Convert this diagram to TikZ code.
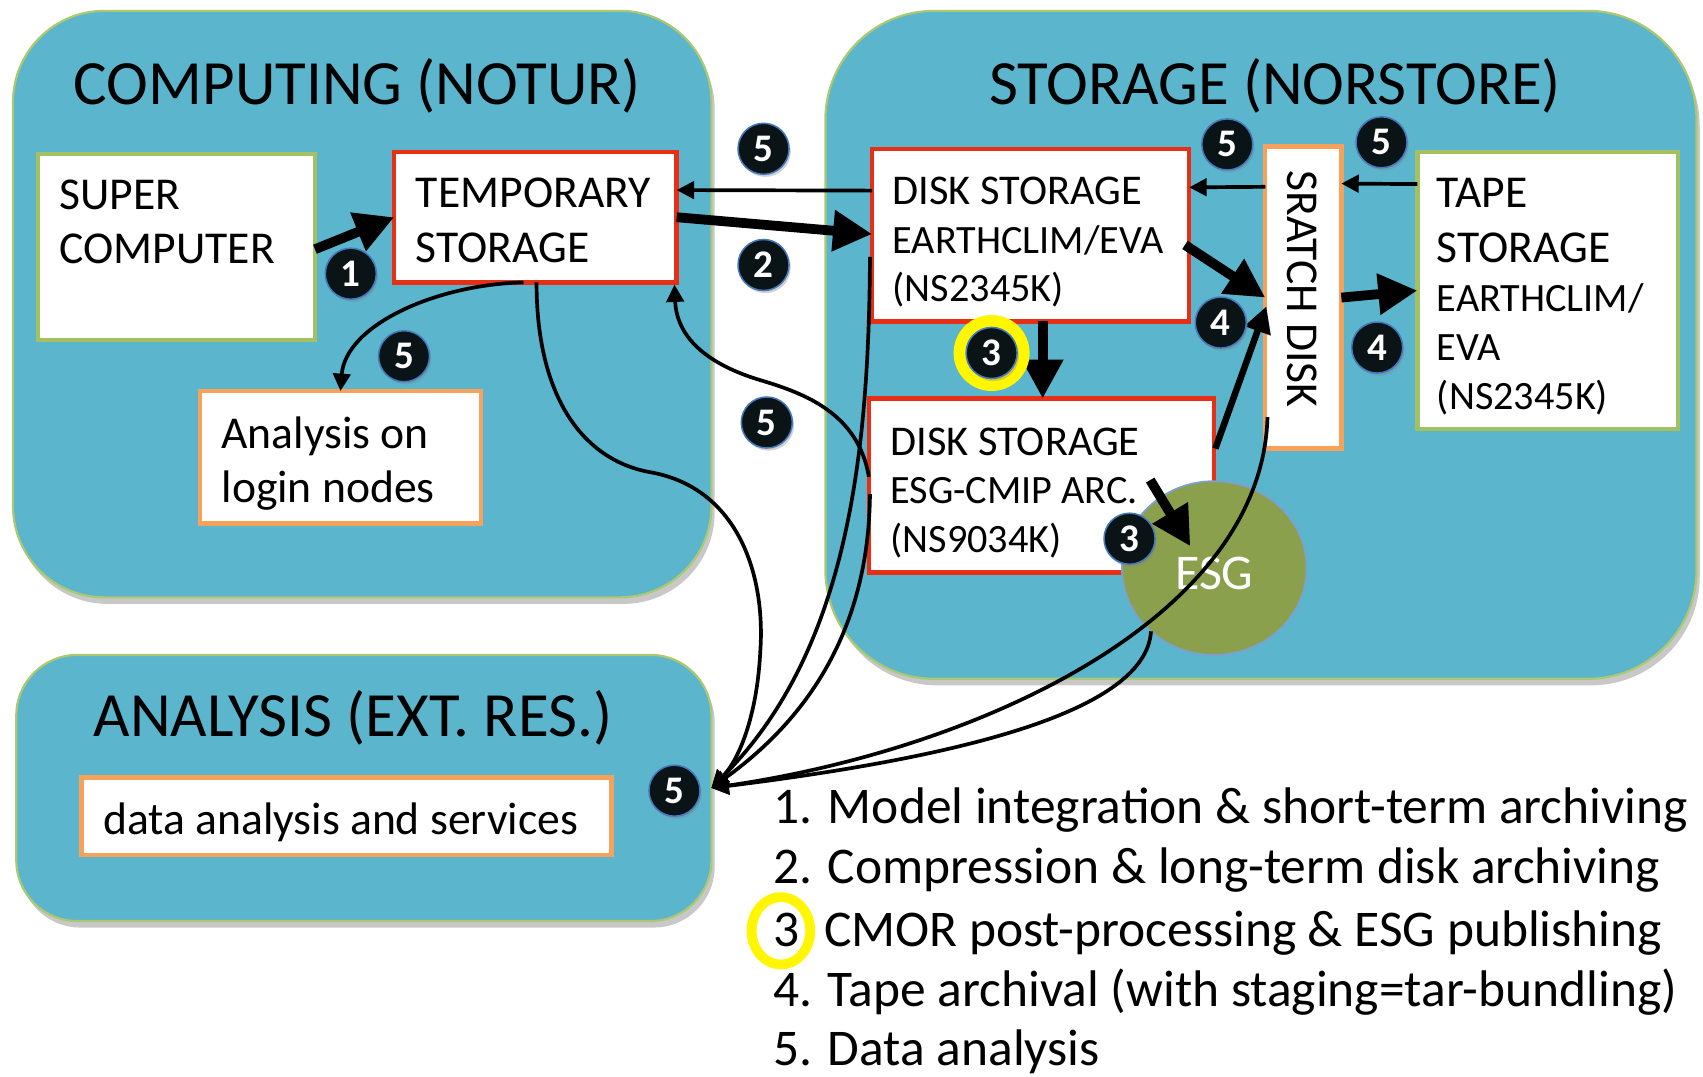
\documentclass[tikz,border=0pt]{standalone}
\usepackage{fontspec}
\setmainfont{Carlito}
\usetikzlibrary{arrows.meta,shapes.geometric,fit,shadows,calc}

\definecolor{panelC}{RGB}{90,181,205}
\definecolor{panelEdge}{RGB}{172,200,112}
\definecolor{redB}{RGB}{232,46,20}
\definecolor{greenB}{RGB}{163,193,98}
\definecolor{orangeB}{RGB}{247,162,90}
\definecolor{esgC}{RGB}{139,160,76}
\definecolor{badgeFill}{RGB}{10,20,22}
\definecolor{badgeEdge}{RGB}{70,120,190}
\definecolor{ringY}{RGB}{255,246,0}

\begin{document}
\begin{tikzpicture}[x=0.5pt,y=-0.5pt,
  every node/.style={inner sep=0pt, outer sep=0pt},
  panelbox/.style={fill=panelC, draw=panelEdge, line width=1pt,
    drop shadow={shadow xshift=1.5pt, shadow yshift=-3pt, opacity=0.3, fill=black!70}},
  wbox/.style={fill=white, line width=2pt},
  ttl/.style={font=\fontsize{29pt}{34pt}\selectfont, anchor=base},
  lbl/.style={font=\fontsize{21pt}{25pt}\selectfont, anchor=base west},
  lblb/.style={font=\fontsize{19.5pt}{23pt}\selectfont, anchor=base west},
  slbl/.style={font=\fontsize{18.5pt}{22pt}\selectfont, anchor=base west},
  legtxt/.style={font=\fontsize{23.7pt}{28pt}\selectfont, anchor=base west},
  badge/.style={circle, fill=badgeFill, draw=badgeEdge, line width=0.7pt,
    minimum size=23.5pt, text=white, font=\fontsize{18pt}{18pt}\selectfont\bfseries,
    drop shadow={shadow xshift=0.8pt, shadow yshift=-1.2pt, opacity=0.35}},
  tarrow/.style={line width=1.7pt, -{Triangle[length=8pt,width=8pt]}},
  karrow/.style={line width=4.5pt, -{Triangle[length=18pt,width=18pt]}},
  marrow/.style={line width=3pt, -{Triangle[length=12pt,width=12pt]}},
]
\fill[white] (0,0) rectangle (1568,991);
\useasboundingbox (0,0) rectangle (1568,991);

% panels
\node[panelbox, rounded corners=42pt, fit={(12,10) (655,550)}] (computing) {};
\node[panelbox, rounded corners=50pt, fit={(760,10) (1562,625)}] (storage) {};
\node[panelbox, rounded corners=28pt, fit={(15,603) (655,848)}] (analysis) {};

\node[ttl] (tcomp) at (329,96) {COMPUTING (NOTUR)};
\node[ttl] (tstor) at (1174,96) {STORAGE (NORSTORE)};
\node[ttl] (tanal) at (325,678) {ANALYSIS (EXT. RES.)};

% boxes
\node[wbox, draw=greenB, fit={(35,142) (290,313)}] (super) {};
\node[wbox, draw=redB, fit={(363,140) (623,260)}] (temp) {};
\node[wbox, draw=orangeB, fit={(184,360) (443,482)}] (login) {};
\node[wbox, draw=redB, fit={(803,137) (1095,296)}] (disk1) {};
\node[wbox, draw=redB, fit={(800,367) (1118,527)}] (disk2) {};
\node[wbox, draw=orangeB, fit={(1165,135) (1235,413)}] (scratch) {};
\node[wbox, draw=greenB, fit={(1305,140) (1545,395)}] (tape) {};
\node[wbox, draw=orangeB, fit={(75,716) (563,787)}] (data) {};
\node[ellipse, fill=esgC, draw=badgeEdge!70, line width=0.8pt,
  minimum width=85pt, minimum height=80pt] (esg) at (1118,523) {};

% texts
\node[lbl] (t1) at (55,193) {SUPER};
\node[lbl] (t2) at (55,243) {COMPUTER};
\node[lbl] (t3) at (383,191) {TEMPORARY};
\node[lbl] (t4) at (383,242) {STORAGE};
\node[lbl] (t5) at (204,413) {Analysis on};
\node[lbl] (t6) at (204,463) {login nodes};
\node[lblb] (t7) at (822,188) {DISK STORAGE};
\node[slbl] (t8) at (822,233) {EARTHCLIM/EVA};
\node[slbl] (t9) at (822,278) {(NS2345K)};
\node[lblb] (t10) at (820,419) {DISK STORAGE};
\node[slbl] (t11) at (820,464) {ESG-CMIP ARC.};
\node[slbl] (t12) at (820,509) {(NS9034K)};
\node[lbl] (t13) at (1323,191) {TAPE};
\node[lbl] (t14) at (1323,242) {STORAGE};
\node[slbl] (t15) at (1323,287) {EARTHCLIM/};
\node[slbl] (t16) at (1323,332) {EVA};
\node[slbl] (t17) at (1323,377) {(NS2345K)};
\node[font=\fontsize{21pt}{25pt}\selectfont, rotate=-90] (t18) at (1199,266) {SRATCH DISK};
\node[lbl] (t19) at (95,768) {data analysis and services};
\node[font=\fontsize{23pt}{23pt}\selectfont, text=white, anchor=base] (t20) at (1118,543) {ESG};

% legend
\node[ellipse, draw=ringY, line width=4.5pt, minimum width=27pt, minimum height=31pt] (lring) at (719,857) {};
\node[legtxt] (l1) at (712,758) {1. Model integration \& short-term archiving};
\node[legtxt] (l2) at (712,813) {2. Compression \& long-term disk archiving};
\node[legtxt] (l3) at (712,871) {3\phantom{.} CMOR post-processing \& ESG publishing};
\node[legtxt] (l4) at (712,927) {4. Tape archival (with staging=tar-bundling)};
\node[legtxt] (l5) at (712,981) {5. Data analysis};

% straight arrows
\draw[karrow] ($(super.east)+(0,2)$) -- (temp.west);
\draw[karrow] (temp.east) -- ($(disk1.west)+(0,-1)$);
\draw[tarrow] ($(disk1.west)+(0,-41)$) -- ($(temp.east)+(0,-25)$);
\draw[karrow] ($(disk1.south)+(11,0)$) -- ($(disk2.north)+(1,0)$);
\draw[tarrow] ($(scratch.west)+(0,-102)$) -- ($(disk1.east)+(0,-44)$);
\draw[tarrow] ($(tape.west)+(0,-98)$) -- ($(scratch.east)+(0,-105)$);
\draw[karrow] ($(disk1.east)+(-4,9)$) -- (scratch.west);
\draw[marrow] ($(disk2.north east)+(1,46)$) -- ($(scratch.west)+(1,8)$);
\draw[karrow] (scratch.east) -- (tape.west);
\draw[karrow] ($(disk2.center)+(100,-5)$) -- ($(esg.center)+(-22,-20)$);

% curved arrows
\draw[tarrow] ($(temp.south)+(-11,0)$) .. controls (400,262) and (318,300) .. (login.north);
\draw[tarrow] ($(disk2.west)+(0,-8)$) .. controls (790,380) and (740,362) .. (700,350)
  .. controls (650,335) and (623,310) .. ($(temp.south east)+(-2,2)$);
\draw[tarrow] ($(temp.south)+(1,0)$) .. controls (494,370) and (540,425) .. (600,435)
  .. controls (680,450) and (705,530) .. (700,600)
  .. controls (697,660) and (680,700) .. (analysis.east);
\draw[tarrow] ($(disk1.west)+(-2,20)$) .. controls (800,420) and (780,600) .. (analysis.east);
\draw[tarrow] ($(disk2.west)+(1,8)$) .. controls (800,560) and (760,650) .. (analysis.east);
\draw[tarrow] (esg.225) .. controls (1055,660) and (860,700) .. (analysis.east);
\draw[tarrow] ($(scratch.south west)+(2,-29)$) .. controls (1162,570) and (900,690) .. (analysis.east);

% badges
\node[circle, draw=ringY, line width=6pt, minimum size=29pt] (ring3) at (913,325) {};
\node[badge] (b5a) at (703,137) {5};
\node[badge] (b1) at (323,252) {1};
\node[badge] (b2) at (703,244) {2};
\node[badge] (b5b) at (372,328) {5};
\node[badge] (b5c) at (706,389) {5};
\node[badge] (b3a) at (913,325) {3};
\node[badge] (b5d) at (1130,133) {5};
\node[badge] (b5e) at (1272,131) {5};
\node[badge] (b4a) at (1124,297) {4};
\node[badge] (b4b) at (1268,320) {4};
\node[badge] (b3b) at (1040,496) {3};
\node[badge] (b5f) at (621,728) {5};
\end{tikzpicture}
\end{document}
